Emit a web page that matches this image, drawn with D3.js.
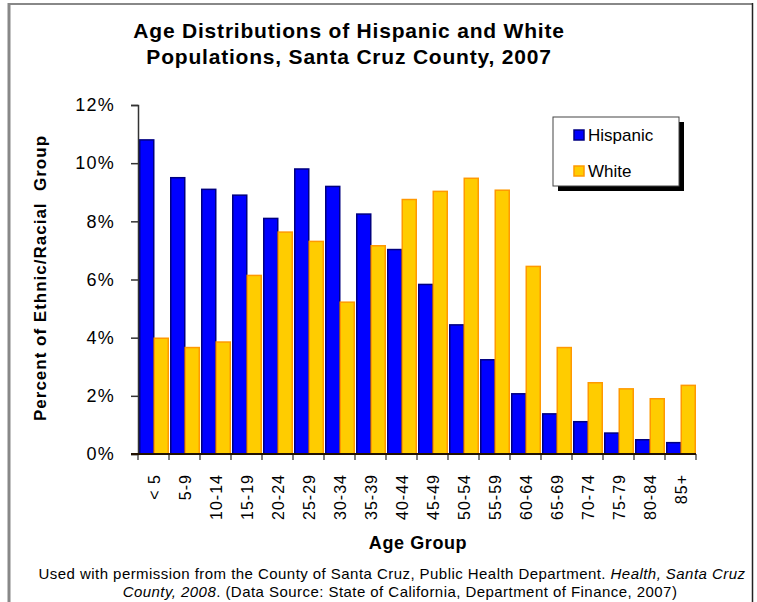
<!DOCTYPE html>
<html>
<head>
<meta charset="utf-8">
<script src="https://cdn.jsdelivr.net/npm/d3@7"></script>
<style>
  html, body { margin: 0; padding: 0; background: #fff; }
  svg { display: block; font-family: "Liberation Sans", Arial, sans-serif; }
</style>
</head>
<body>
<svg id="chart" width="757" height="602"></svg>
<script>
// Age groups along the x axis
const ageGroups = ["< 5", "5-9", "10-14", "15-19", "20-24", "25-29", "30-34", "35-39",
  "40-44", "45-49", "50-54", "55-59", "60-64", "65-69", "70-74", "75-79", "80-84", "85+"];

// Share of each population in every age group (percent)
const hispanic = [10.8, 9.5, 9.1, 8.9, 8.1, 9.8, 9.2, 8.25, 7.03, 5.83, 4.44, 3.24,
  2.07, 1.38, 1.11, 0.72, 0.49, 0.39];
const white = [3.98, 3.66, 3.85, 6.14, 7.63, 7.31, 5.22, 7.16, 8.75, 9.03, 9.48, 9.07,
  6.45, 3.66, 2.45, 2.24, 1.9, 2.36];

const seriesNames = ["Hispanic", "White"];
const yTicks = [0, 2, 4, 6, 8, 10, 12];

const svg = d3.select("#chart");

// Outer frame
svg.append("line").attr("x1", 9).attr("x2", 753).attr("y1", 4).attr("y2", 4)
  .attr("stroke", "#888").attr("stroke-width", 2);
svg.append("line").attr("x1", 9).attr("x2", 9).attr("y1", 3).attr("y2", 602)
  .attr("stroke", "#888").attr("stroke-width", 3);
svg.append("line").attr("x1", 752.5).attr("x2", 752.5).attr("y1", 3).attr("y2", 602)
  .attr("stroke", "#222").attr("stroke-width", 1.5);

// Title
const title = svg.append("text").attr("text-anchor", "middle")
  .attr("font-size", 21).attr("font-weight", "bold").attr("fill", "#000")
  .attr("letter-spacing", 0.8);
title.append("tspan").attr("x", 349).attr("y", 38).text("Age Distributions of Hispanic and White");
title.append("tspan").attr("x", 349).attr("y", 64).text("Populations, Santa Cruz County, 2007");

// Scales
const plot = { left: 138, right: 696, top: 105, bottom: 454 };
const x = d3.scaleBand().domain(ageGroups).range([plot.left, plot.right])
  .paddingInner(0.065).paddingOuter(0.0325);
const xs = d3.scaleBand().domain(seriesNames).range([0, x.bandwidth()]);
const y = d3.scaleLinear().domain([0, 12]).range([plot.bottom, plot.top]);

// Bars
const rows = ageGroups.map((g, i) => ({ group: g, values: [
  { key: "Hispanic", v: hispanic[i] }, { key: "White", v: white[i] }] }));
const styles = {
  Hispanic: { fill: "#0000ff", stroke: "#000080" },
  White: { fill: "#ffcc00", stroke: "#ff9900" }
};
svg.append("g").selectAll("g").data(rows).join("g")
  .attr("transform", d => `translate(${x(d.group)},0)`)
  .selectAll("rect").data(d => d.values).join("rect")
  .attr("x", d => xs(d.key) + 0.75)
  .attr("width", xs.bandwidth() - 0.5)
  .attr("y", d => y(d.v))
  .attr("height", d => y(0) - y(d.v))
  .attr("fill", d => styles[d.key].fill)
  .attr("stroke", d => styles[d.key].stroke)
  .attr("stroke-width", 1.5);

// Y axis
const yAxis = svg.append("g").attr("transform", `translate(${plot.left},0)`)
  .call(d3.axisLeft(y).tickValues(yTicks).tickFormat(d => d + "%").tickSize(7).tickPadding(16));
yAxis.select(".domain").attr("stroke", "#333").attr("stroke-width", 1.5);
yAxis.selectAll(".tick line").attr("stroke", "#333").attr("stroke-width", 1.5);
yAxis.selectAll("text").attr("font-size", 18).attr("fill", "#000")
  .attr("font-family", "Liberation Sans, Arial, sans-serif").attr("letter-spacing", 1.2);

// X axis
const xAxis = svg.append("g").attr("transform", `translate(0,${plot.bottom})`)
  .call(d3.axisBottom(x).tickSize(0).tickPadding(0));
xAxis.select(".domain").remove();
xAxis.selectAll("text")
  .attr("font-size", 16).attr("fill", "#000").attr("letter-spacing", 1)
  .attr("font-family", "Liberation Sans, Arial, sans-serif")
  .attr("text-anchor", "end")
  .attr("dy", null)
  .attr("transform", "translate(6,20) rotate(-90)");
// Category boundary ticks
const boundaries = ageGroups.map(g => x(g) - x.step() * x.paddingInner() / 2)
  .concat([plot.right]);
svg.append("g").selectAll("line").data(boundaries).join("line")
  .attr("x1", d => d).attr("x2", d => d)
  .attr("y1", plot.bottom).attr("y2", plot.bottom + 6)
  .attr("stroke", "#555").attr("stroke-width", 1.5);
svg.append("line").attr("x1", plot.left - 7).attr("x2", plot.right)
  .attr("y1", plot.bottom).attr("y2", plot.bottom)
  .attr("stroke", "#221100").attr("stroke-width", 2);

// Axis titles
svg.append("text").attr("x", 418).attr("y", 549).attr("text-anchor", "middle")
  .attr("font-size", 18).attr("font-weight", "bold").attr("letter-spacing", 0.6)
  .text("Age Group");
svg.append("text").attr("transform", "translate(46,278) rotate(-90)")
  .attr("text-anchor", "middle").attr("font-size", 17).attr("font-weight", "bold")
  .attr("letter-spacing", 1).attr("xml:space", "preserve")
  .text("Percent of Ethnic/Racial  Group");

// Legend
const lg = svg.append("g").attr("transform", "translate(553,117)");
lg.append("rect").attr("x", 5).attr("y", 5).attr("width", 126).attr("height", 69).attr("fill", "#000");
lg.append("rect").attr("x", 0).attr("y", 0).attr("width", 126).attr("height", 69)
  .attr("fill", "#fff").attr("stroke", "#444").attr("stroke-width", 1);
seriesNames.forEach((s, i) => {
  const cy = 18 + i * 36;
  lg.append("rect").attr("x", 21).attr("y", cy - 5).attr("width", 10).attr("height", 10)
    .attr("fill", styles[s].fill).attr("stroke", styles[s].stroke).attr("stroke-width", 1.5);
  lg.append("text").attr("x", 35).attr("y", cy + 6).attr("font-size", 17).text(s);
});

// Source note
const note = svg.append("text").attr("text-anchor", "middle").attr("font-size", 15)
  .attr("fill", "#000").attr("letter-spacing", 0.45);
const l1 = note.append("tspan").attr("x", 392).attr("y", 579);
l1.append("tspan").text("Used with permission from the County of Santa Cruz, Public Health Department. ");
l1.append("tspan").attr("font-style", "italic").text("Health, Santa Cruz");
const l2 = svg.append("text").attr("text-anchor", "middle").attr("font-size", 15)
  .attr("fill", "#000").attr("letter-spacing", 0.45)
  .attr("x", 400).attr("y", 597);
l2.append("tspan").attr("font-style", "italic").text("County, 2008");
l2.append("tspan").text(". (Data Source: State of California, Department of Finance, 2007)");
</script>
</body>
</html>
